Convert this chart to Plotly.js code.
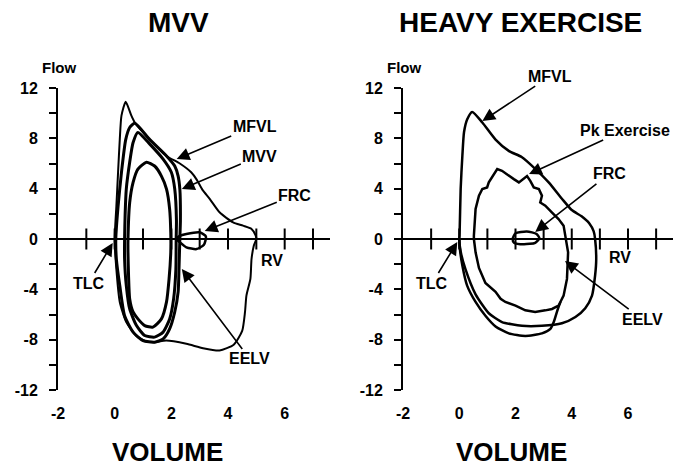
<!DOCTYPE html>
<html>
<head>
<meta charset="utf-8">
<script src="https://cdn.plot.ly/plotly-3.0.1.min.js"></script>
<style>
html,body{margin:0;padding:0;background:#fff;}
#chart{width:686px;height:466px;}
</style>
</head>
<body>
<div id="chart"></div>
<script>
// ---------- Data (left panel: MVV) ----------
const mvvMfvlX = [0,0.06,0.12,0.18,0.24,0.39,0.59,0.71,1.24,1.83,2.3,2.7,2.9,3.1,3.36,3.71,4.18,4.53,4.83,4.97,5.0,4.91,4.83,4.79,4.65,4.6,4.5,4.2,3.7,3.12,2.53,1.82,1.41,1.12,0.77,0.41,0.18,0.06,0];
const mvvMfvlY = [0,2.6,5.3,7.9,9.8,10.9,9.8,9.26,7.9,6.6,6.0,5.3,4.7,3.9,3.17,2.1,1.32,1.06,0.8,0.3,0,-0.53,-1.59,-3.17,-4.5,-5.8,-7.3,-8.4,-8.86,-8.68,-8.33,-8.07,-8.2,-8.15,-7.7,-6.6,-5.0,-2.4,0];

const mvvOuterX = [0.04,0.12,0.24,0.39,0.53,0.71,1.24,1.83,2.12,2.24,2.3,2.32,2.3,2.27,2.24,2.12,1.94,1.71,1.41,1.0,0.65,0.35,0.18,0.06,0.04];
const mvvOuterY = [0,2.6,5.3,7.9,8.86,9.2,7.9,6.6,5.8,5.0,3.97,1.5,0,-2.4,-4.2,-5.8,-7.14,-7.94,-8.2,-8.07,-7.4,-6.1,-3.7,-1.59,0];

const mvvMidX = [0.35,0.37,0.41,0.53,0.65,0.82,1.24,1.71,2.0,2.12,2.18,2.17,2.16,2.08,1.94,1.71,1.41,1.06,0.77,0.53,0.41,0.35,0.35];
const mvvMidY = [0,2.0,3.97,6.1,7.67,8.47,7.54,6.35,5.3,3.97,1.5,0,-2.4,-4.76,-6.35,-7.4,-7.8,-7.67,-6.88,-5.56,-3.7,-1.59,0];

const mvvInnerX = [0.47,0.53,0.65,0.82,1.12,1.41,1.65,1.83,1.94,1.98,1.98,1.92,1.83,1.65,1.35,1.06,0.82,0.65,0.53,0.49,0.47,0.47];
const mvvInnerY = [0,2.9,4.5,5.56,6.1,5.8,5.0,3.97,2.38,0.5,-1.06,-3.17,-5.0,-6.35,-7.0,-6.88,-6.35,-5.8,-4.76,-2.9,-1.06,0];

const mvvFrcX = [2.18,2.3,2.53,3.0,3.22,3.15,2.89,2.53,2.3,2.18];
const mvvFrcY = [0,0.25,0.4,0.53,0.2,-0.45,-0.8,-0.66,-0.26,0];

// ---------- Data (right panel: Heavy exercise) ----------
const exMfvlX = [0,0.01,0.05,0.11,0.17,0.28,0.46,0.82,1.29,1.76,2.23,2.71,3.18,3.65,4.0,4.35,4.62,4.78,4.83,4.87,4.83,4.72,4.48,4.13,3.65,2.94,2.23,1.52,1.05,0.58,0.22,0.05,0];
const exMfvlY = [0,0.26,4.0,6.6,8.5,9.5,10.1,9.26,7.9,7.0,6.5,5.56,4.5,3.2,2.3,1.8,1.25,0.6,0,-1.6,-2.9,-4.5,-5.5,-6.2,-6.7,-6.9,-6.9,-6.6,-5.9,-4.4,-2.4,-1.0,0];

const exPkX = [0.52,0.52,0.58,0.7,0.82,0.99,1.05,1.17,1.35,1.52,1.76,1.94,2.12,2.29,2.41,2.53,2.65,2.83,2.94,2.88,3.06,3.3,3.53,3.71,3.77,3.8,3.87,3.83,3.71,3.53,3.3,3.06,2.7,2.35,2.0,1.64,1.47,1.29,0.93,0.7,0.58,0.52];
const exPkY = [0,0.26,2.38,3.44,3.97,4.1,4.5,4.9,5.56,5.42,5.0,4.76,4.5,4.76,5.0,4.6,4.1,3.97,3.44,2.9,2.65,2.1,1.59,1.06,0.26,0,-1.06,-3.17,-4.5,-5.3,-5.56,-5.67,-5.8,-5.67,-5.3,-5.0,-4.75,-4.2,-3.5,-2.3,-1.06,0];

const exInspX = [3.6,3.5,3.36,3.24,2.94,2.35,1.76,1.29,0.93,0.58,0.28,0.11,0.01,0];
const exInspY = [-5.0,-5.6,-6.6,-7.14,-7.5,-7.7,-7.5,-6.95,-6.1,-5.0,-3.7,-2.1,-0.53,0];

const exFrcX = [1.9,2.0,2.4,2.75,2.85,2.7,2.3,1.95,1.9];
const exFrcY = [0,0.45,0.6,0.4,0.05,-0.3,-0.42,-0.3,0];

// ---------- Axis ticks / labels ----------
const xRange = [-2, 7.6];
const yRange = [-12, 12];
const xTickVals = [-2, 0, 2, 4, 6];
const xTickText = ['-2', '0', '2', '4', '6'];
const yTickVals = [-12,-10,-8,-6,-4,-2,0,2,4,6,8,10,12];
const yTickText = ['-12','','-8','','-4','','0','','4','','8','','12'];
const crossTickX = [-1,0,1,2,3,4,5,6,7];
const crossTickY = [0,0,0,0,0,0,0,0,0];

const FONT = 'Liberation Sans, Arial, Helvetica, sans-serif';

function loop(x, y, xa, ya, w, shape) {
  return {x: x, y: y, xaxis: xa, yaxis: ya, type: 'scatter', mode: 'lines',
    line: {color: '#000', width: w, shape: shape || 'spline', smoothing: 0.6},
    hoverinfo: 'skip', showlegend: false};
}
function ticksTrace(xa, ya) {
  return {x: crossTickX, y: crossTickY, xaxis: xa, yaxis: ya, type: 'scatter', mode: 'markers',
    marker: {symbol: 'line-ns', size: 15, line: {color: '#000', width: 2}},
    hoverinfo: 'skip', showlegend: false, cliponaxis: false};
}

const traces = [
  ticksTrace('x', 'y'),
  loop(mvvMfvlX, mvvMfvlY, 'x', 'y', 2),
  loop(mvvOuterX, mvvOuterY, 'x', 'y', 3),
  loop(mvvMidX, mvvMidY, 'x', 'y', 3),
  loop(mvvInnerX, mvvInnerY, 'x', 'y', 3),
  loop(mvvFrcX, mvvFrcY, 'x', 'y', 2.5),
  ticksTrace('x2', 'y2'),
  loop(exMfvlX, exMfvlY, 'x2', 'y2', 2.5),
  loop(exPkX, exPkY, 'x2', 'y2', 2.5, 'linear'),
  loop(exInspX, exInspY, 'x2', 'y2', 2.5),
  loop(exFrcX, exFrcY, 'x2', 'y2', 2.5)
];

function xAxis(domain, anchor) {
  return {domain: domain, anchor: anchor, range: xRange, showline: false, zeroline: false,
    showgrid: false, ticks: '', tickvals: xTickVals, ticktext: xTickText,
    ticklabelstandoff: 12, fixedrange: true,
    tickfont: {family: FONT, size: 16, color: '#000', weight: 'bold'}};
}
function yAxis(anchor) {
  return {domain: [0, 1], anchor: anchor, range: yRange, showline: true, linewidth: 2,
    linecolor: '#000', zeroline: true, zerolinewidth: 2.5, zerolinecolor: '#000',
    showgrid: false, ticks: 'outside', ticklen: 7, tickwidth: 2, tickcolor: '#000',
    tickvals: yTickVals, ticktext: yTickText, ticklabelstandoff: 8, fixedrange: true,
    tickfont: {family: FONT, size: 16, color: '#000', weight: 'bold'}};
}

function arrowNote(text, xa, ya, x, y, ax, ay) {
  return {text: '<b>' + text + '</b>', xref: xa, yref: ya, x: x, y: y, ax: ax, ay: ay,
    showarrow: true, arrowhead: 2, arrowsize: 1.6, arrowwidth: 1.6, arrowcolor: '#000',
    font: {family: FONT, size: 16, color: '#000'}};
}
function plainNote(text, xa, ya, x, y, size, yanchor) {
  return {text: '<b>' + text + '</b>', xref: xa, yref: ya, x: x, y: y, showarrow: false,
    xanchor: 'center', yanchor: yanchor || 'middle',
    font: {family: FONT, size: size, color: '#000'}};
}

const annotations = [
  // Left panel
  plainNote('MVV', 'x', 'paper', 2.26, 1.217, 28),
  plainNote('Flow', 'x', 'paper', -1.95, 1.069, 15),
  plainNote('VOLUME', 'x', 'paper', 1.87, -0.205, 26),
  arrowNote('MFVL', 'x', 'y', 2.19, 6.35, 78, -33),
  arrowNote('MVV', 'x', 'y', 2.37, 3.97, 78, -33),
  arrowNote('FRC', 'x', 'y', 3.18, 0.63, 90, -36),
  arrowNote('TLC', 'x', 'y', -0.07, -0.32, -24, 40),
  arrowNote('EELV', 'x', 'y', 2.37, -2.38, 68, 90),
  plainNote('RV', 'x', 'y', 5.55, -1.67, 16),
  // Right panel
  plainNote('HEAVY EXERCISE', 'x2', 'paper', 2.16, 1.217, 28),
  plainNote('Flow', 'x2', 'paper', -1.95, 1.069, 15),
  plainNote('VOLUME', 'x2', 'paper', 1.84, -0.205, 26),
  arrowNote('MFVL', 'x2', 'y2', 0.82, 9.37, 68, -45),
  arrowNote('Pk Exercise', 'x2', 'y2', 2.48, 5.16, 96, -44),
  arrowNote('FRC', 'x2', 'y2', 2.7, 0.56, 74, -58),
  arrowNote('TLC', 'x2', 'y2', -0.07, -0.24, -25, 41),
  arrowNote('EELV', 'x2', 'y2', 3.76, -1.75, 77, 58),
  plainNote('RV', 'x2', 'y2', 5.71, -1.5, 16)
];

const layout = {
  width: 686, height: 466,
  margin: {l: 58, r: 13, t: 88, b: 76, pad: 0},
  paper_bgcolor: '#fff', plot_bgcolor: '#fff',
  font: {family: FONT, color: '#000', weight: 'bold'},
  showlegend: false,
  xaxis: xAxis([0, 0.4423], 'y'),
  yaxis: yAxis('x'),
  xaxis2: xAxis([0.561, 1], 'y2'),
  yaxis2: yAxis('x2'),
  annotations: annotations
};

Plotly.newPlot('chart', traces, layout, {staticPlot: true, displayModeBar: false});
</script>
</body>
</html>
